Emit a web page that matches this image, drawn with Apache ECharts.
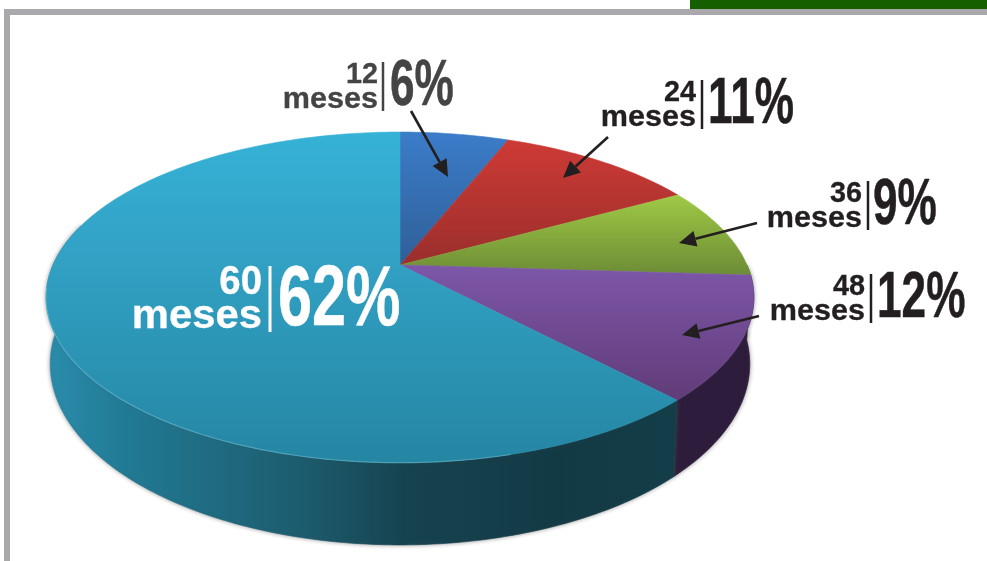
<!DOCTYPE html>
<html>
<head>
<meta charset="utf-8">
<style>
  html, body { margin: 0; padding: 0; background: #fff; }
  #chart { width: 987px; height: 561px; }
</style>
<script src="https://cdn.jsdelivr.net/npm/echarts@6/dist/echarts.min.js"></script>
</head>
<body>
<div id="chart"></div>
<script>
// chart data
var months = ['12', '24', '36', '48', '60'];
var unitLabel = 'meses';
var shares = [6, 11, 9, 12, 62];

// top face colours, light to dark going down
var faceColors = [
    [[132, '#3b7cc9'], [265, '#2f5f98']],
    [[140, '#ce3a35'], [265, '#9a2e2c']],
    [[195, '#a0c945'], [275, '#6c8c36']],
    [[270, '#7c56a7'], [400, '#603c79']],
    [[132, '#36b2d7'], [265, '#31a0c3'], [463, '#2586a3']]
];
var wallColors = ['#1d3a5c', '#5c1d1c', '#46592a', '#2e1c3c', null];
var tealWall = [
    [0, '#2a8cab'], [0.12, '#217a94'], [0.4, '#1c5c6e'],
    [0.56, '#164350'], [0.8, '#123a45'], [1, '#133d48']
];

// label layout: right edge of months/unit, bar x, percent x, the baselines
var labelLayout = [
    { right: 378, bar: 383, pct: 390, top: 85, base: 110, color: '#444444', sx: 0.68 },
    { right: 696, bar: 702, pct: 708, top: 103, base: 128, color: '#231f20', sx: 0.68 },
    { right: 862, bar: 868, pct: 873, top: 204, base: 229, color: '#231f20', sx: 0.68 },
    { right: 865, bar: 871, pct: 877, top: 297, base: 322, color: '#231f20', sx: 0.68 }
];
var bigLabel = { right: 262, bar: 270, pct: 278, top: 297, base: 331, color: '#ffffff', sx: 0.72 };
var arrows = [
    [411, 111, 448, 177],
    [608, 137, 563, 178],
    [757, 223, 679, 243],
    [759, 316, 682, 335]
];

// perspective of the disc: unit circle -> screen
var persp = -0.196;
var topDisc = { x: 400, y: 265, a: 159, c: 347 };
var bottomDisc = { x: 400, y: 328.5, a: 174, c: 343 };

function project(disc, deg) {
    var t = deg * Math.PI / 180;
    var ux = Math.sin(t), uy = -Math.cos(t);
    var d = 1 + persp * uy;
    return [disc.x + disc.c * ux / d, disc.y + disc.a * uy / d];
}

function arc(disc, from, to) {
    var pts = [];
    var n = Math.max(2, Math.ceil(Math.abs(to - from)));
    for (var i = 0; i <= n; i++) {
        pts.push(project(disc, from + (to - from) * i / n));
    }
    return pts;
}

var total = shares.reduce(function (a, b) { return a + b; }, 0);
function sliceRange(i) {
    var before = 0;
    for (var k = 0; k < i; k++) before += shares[k];
    return [before / total * 360, (before + shares[i]) / total * 360];
}

function faceFill(i) {
    var stops = faceColors[i];
    var y0 = stops[0][0], y1 = stops[stops.length - 1][0];
    return {
        type: 'linear', global: true, x: 0, y: y0, x2: 0, y2: y1,
        colorStops: stops.map(function (s) {
            return { offset: (s[0] - y0) / (y1 - y0), color: s[1] };
        })
    };
}

function renderFace(params, api) {
    var i = api.value(0);
    var r = sliceRange(i);
    var fill = faceFill(i);
    return {
        type: 'polygon',
        shape: { points: [[topDisc.x, topDisc.y]].concat(arc(topDisc, r[0], r[1])) },
        style: { fill: fill, stroke: fill, lineWidth: 0.6 }
    };
}

function renderWall(params, api) {
    var i = api.value(0);
    var r = sliceRange(i);
    // only the front of the disc shows a wall
    var from = Math.max(r[0], 90), to = Math.min(r[1], 285);
    if (to <= from) return null;
    var upper = arc(topDisc, from, to);
    var lower = arc(bottomDisc, to, from);
    var fill = wallColors[i] || {
        type: 'linear', global: true, x: 680, y: 0, x2: 50, y2: 0,
        colorStops: tealWall.map(function (s) {
            return { offset: 1 - s[0], color: s[1] };
        }).reverse()
    };
    return {
        type: 'group',
        children: [
            {
                type: 'polygon',
                shape: { points: upper.concat(lower) },
                style: {
                    fill: fill, stroke: fill, lineWidth: 0.6,
                    shadowBlur: 4, shadowColor: 'rgba(70,70,70,0.55)'
                }
            }
        ]
    };
}

// light edge on the front rim of the big slice
function renderRim(params, api) {
    var i = api.value(0);
    if (i !== shares.length - 1) return null;
    var r = sliceRange(i);
    return {
        type: 'polyline',
        shape: { points: arc(topDisc, Math.max(r[0], 165), 262) },
        style: { fill: null, stroke: 'rgba(130,205,225,0.4)', lineWidth: 1.2 }
    };
}

function txt(text, x, baseline, size, color, align, sx, heavy) {
    return {
        type: 'text',
        x: x,
        y: baseline - size * 0.346,
        scaleX: sx || 1,
        z: 20,
        style: {
            text: text,
            font: 'bold ' + size + 'px "Liberation Sans", Arial, sans-serif',
            fill: color,
            stroke: color,
            lineWidth: heavy,
            align: align,
            verticalAlign: 'middle'
        }
    };
}

function labelGroup(i, l, small, unit, pct, barTop, barW) {
    var out = [];
    out.push(txt(months[i], l.right, l.top, small, l.color, 'right', 0.96, 0.3));
    out.push(txt(unitLabel, l.right, l.base, unit, l.color, 'right', 1.02, 0.3));
    out.push({
        type: 'rect', z: 20,
        shape: { x: l.bar - barW / 2, y: barTop, width: barW, height: l.base - barTop + 1 },
        style: { fill: l.color }
    });
    out.push(txt(shares[i] + '%', l.pct, l.base, pct, l.color, 'left', l.sx, 0.5));
    return out;
}

function arrow(a) {
    var dx = a[2] - a[0], dy = a[3] - a[1];
    var len = Math.sqrt(dx * dx + dy * dy);
    var ux = dx / len, uy = dy / len;
    var bx = a[2] - ux * 17, by = a[3] - uy * 17;
    return [
        {
            type: 'line', z: 20,
            shape: { x1: a[0], y1: a[1], x2: bx, y2: by },
            style: { stroke: '#231f20', lineWidth: 2.6 }
        },
        {
            type: 'polygon', z: 20,
            shape: { points: [[a[2], a[3]], [bx - uy * 8, by + ux * 8], [bx + uy * 8, by - ux * 8]] },
            style: { fill: '#231f20' }
        }
    ];
}

var graphics = [
    { type: 'rect', shape: { x: 690, y: 0, width: 297, height: 9 }, style: { fill: '#155f00' } },
    { type: 'rect', shape: { x: 4, y: 9, width: 983, height: 6 }, style: { fill: '#a9a9ab' } },
    { type: 'rect', shape: { x: 4, y: 9, width: 6, height: 552 }, style: { fill: '#a9a9ab' } }
];
labelLayout.forEach(function (l, i) {
    graphics = graphics.concat(labelGroup(i, l, 30, 30, 65, l.top - 23, 2.5));
});
graphics = graphics.concat(labelGroup(4, bigLabel, 40, 41, 85, 266, 3));
arrows.forEach(function (a) { graphics = graphics.concat(arrow(a)); });

var seriesData = shares.map(function (v, i) { return [i, v]; });

var myChart = echarts.init(document.getElementById('chart'));
myChart.setOption({
    animation: false,
    backgroundColor: '#ffffff',
    tooltip: { show: false },
    graphic: graphics,
    series: [
        { type: 'custom', coordinateSystem: 'none', silent: true, z: 1, renderItem: renderWall, data: seriesData },
        { type: 'custom', coordinateSystem: 'none', silent: true, z: 2, renderItem: renderFace, data: seriesData },
        { type: 'custom', coordinateSystem: 'none', silent: true, z: 3, renderItem: renderRim, data: seriesData }
    ]
});
</script>
</body>
</html>
